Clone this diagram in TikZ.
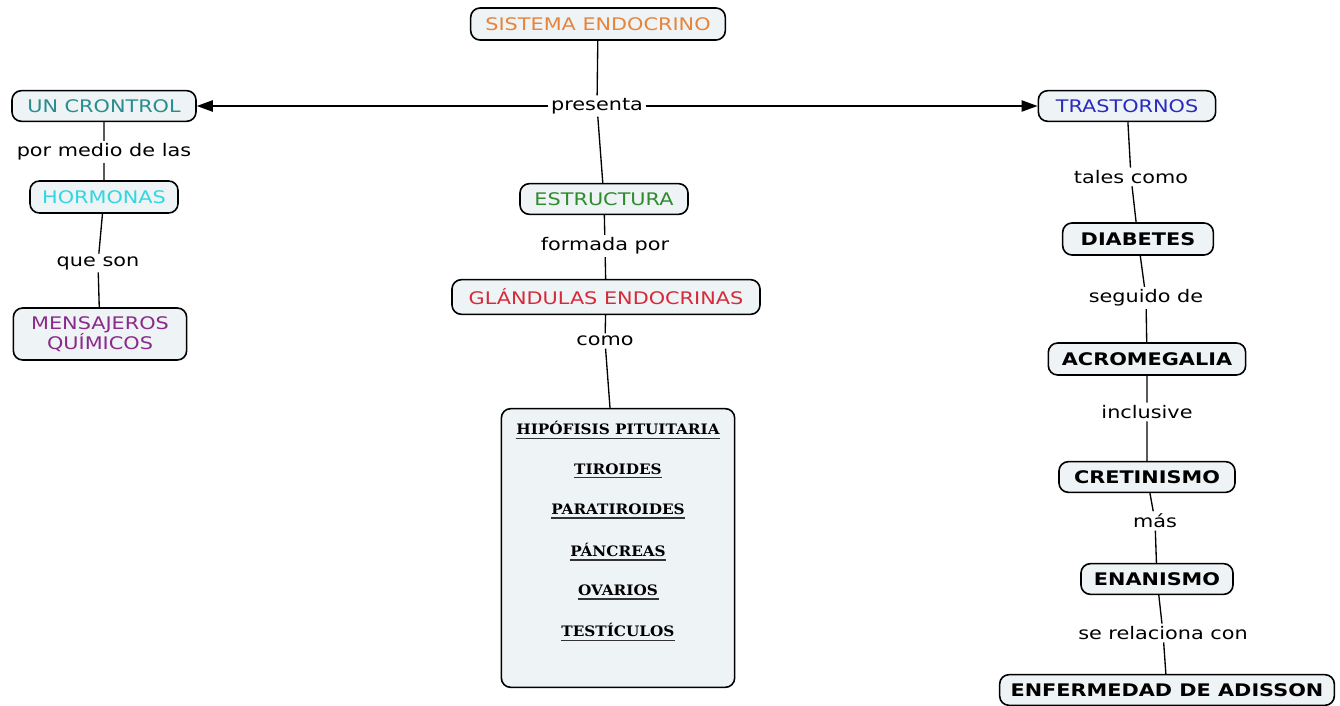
\documentclass[tikz,border=0pt]{standalone}
\usepackage{fontspec}
\setmainfont{DejaVu Sans}[FakeStretch=1.2]
\newfontfamily\listafont{DejaVu Serif}[FakeStretch=1.06]
\usetikzlibrary{positioning, arrows.meta}

\definecolor{cajafondo}{HTML}{EEF3F5}
\definecolor{naranja}{HTML}{E8833A}
\definecolor{verdeazul}{HTML}{2A8C8C}
\definecolor{celeste}{HTML}{33D6E0}
\definecolor{morado}{HTML}{8B2A8B}
\definecolor{verde}{HTML}{2E8B2E}
\definecolor{rojo}{HTML}{D42A3A}
\definecolor{azul}{HTML}{2A2ABF}

\begin{document}
\begin{tikzpicture}[
		x=0.75pt, y=-0.75pt,
		line width=1pt,
		>={Triangle[length=12pt, width=8.5pt]},
		concepto/.style={draw, rectangle, rounded corners=7pt, fill=cajafondo, line width=1.2pt, inner sep=2pt, font=\fontsize{13}{15}\selectfont},
		fuerte/.style={concepto, font=\fontsize{13}{15}\selectfont\bfseries},
		enlace/.style={inner sep=1.5pt, font=\fontsize{13}{15}\selectfont},
		glandula/.style={inner sep=0pt, font=\listafont\fontsize{10.8}{12}\selectfont\bfseries}
	]
	\useasboundingbox (0,0) rectangle (1340,706);

	% centro
	\node[concepto, text=naranja, minimum width=191pt, minimum height=24pt] (sistema) at (598, 24) {SISTEMA ENDOCRINO};
	\node[enlace] (presenta) at (597, 106) {presenta};
	\node[concepto, text=verde, minimum width=126pt, minimum height=23pt] (estructura) at (604, 199) {ESTRUCTURA};
	\node[enlace] (formada) at (605, 246) {formada por};
	\node[concepto, text=rojo, minimum width=231pt, minimum height=26pt] (glandulas) at (606, 297) {GLÁNDULAS ENDOCRINAS};
	\node[enlace] (como) at (605, 341) {como};
	\node[concepto, minimum width=175pt, minimum height=209pt] (lista) at (618, 548) {};
	\foreach \g [count=\i] in {HIPÓFISIS PITUITARIA, TIROIDES, PARATIROIDES, PÁNCREAS, OVARIOS, TESTÍCULOS} {
		\node[glandula] (gl\i) at (618, 388 + 40.4*\i) {\g};
		\draw[line width=1.3pt, black!80] ([yshift=-2.6pt]gl\i.base west) -- ([yshift=-2.6pt]gl\i.base east);
	}

	% izquierda
	\node[concepto, text=verdeazul, minimum width=138pt, minimum height=23pt] (control) at (104, 106) {UN CRONTROL};
	\node[enlace] (medio) at (104, 152) {por medio de las};
	\node[concepto, text=celeste, minimum width=111pt, minimum height=24pt] (hormonas) at (104, 197) {HORMONAS};
	\node[enlace] (queson) at (98, 263) {que son};
	\node[concepto, text=morado, minimum width=130pt, minimum height=39pt, align=center] (mensajeros) at (100, 334) {MENSAJEROS\\QUÍMICOS};

	% derecha
	\node[concepto, text=azul, minimum width=133pt, minimum height=23pt] (trastornos) at (1127, 106) {TRASTORNOS};
	\node[enlace] (tales) at (1131, 177) {tales como};
	\node[fuerte, minimum width=113pt, minimum height=24pt] (diabetes) at (1138, 239) {DIABETES};
	\node[enlace] (seguido) at (1146, 298) {seguido de};
	\node[fuerte, minimum width=148pt, minimum height=24pt] (acromegalia) at (1147, 359) {ACROMEGALIA};
	\node[enlace] (inclusive) at (1147, 412) {inclusive};
	\node[fuerte, minimum width=132pt, minimum height=23pt] (cretinismo) at (1147, 477) {CRETINISMO};
	\node[enlace] (mas) at (1155, 521) {más};
	\node[fuerte, minimum width=114pt, minimum height=23pt] (enanismo) at (1157, 579) {ENANISMO};
	\node[enlace] (relaciona) at (1163, 633) {se relaciona con};
	\node[fuerte, minimum width=251pt, minimum height=23pt] (adisson) at (1167, 690) {ENFERMEDAD DE ADISSON};

	\draw (sistema) -- (presenta) -- (estructura) -- (formada) -- (glandulas) -- (como) -- (lista.north -| 610, 0);
	\draw [->] (presenta) -- (control);
	\draw [->] (presenta) -- (trastornos);
	\draw (control) -- (medio) -- (hormonas) -- (queson) -- (mensajeros);
	\draw (trastornos) -- (tales) -- (diabetes) -- (seguido) -- (acromegalia) -- (inclusive) -- (cretinismo) -- (mas) -- (enanismo) -- (relaciona) -- (adisson);

\end{tikzpicture}
\end{document}
